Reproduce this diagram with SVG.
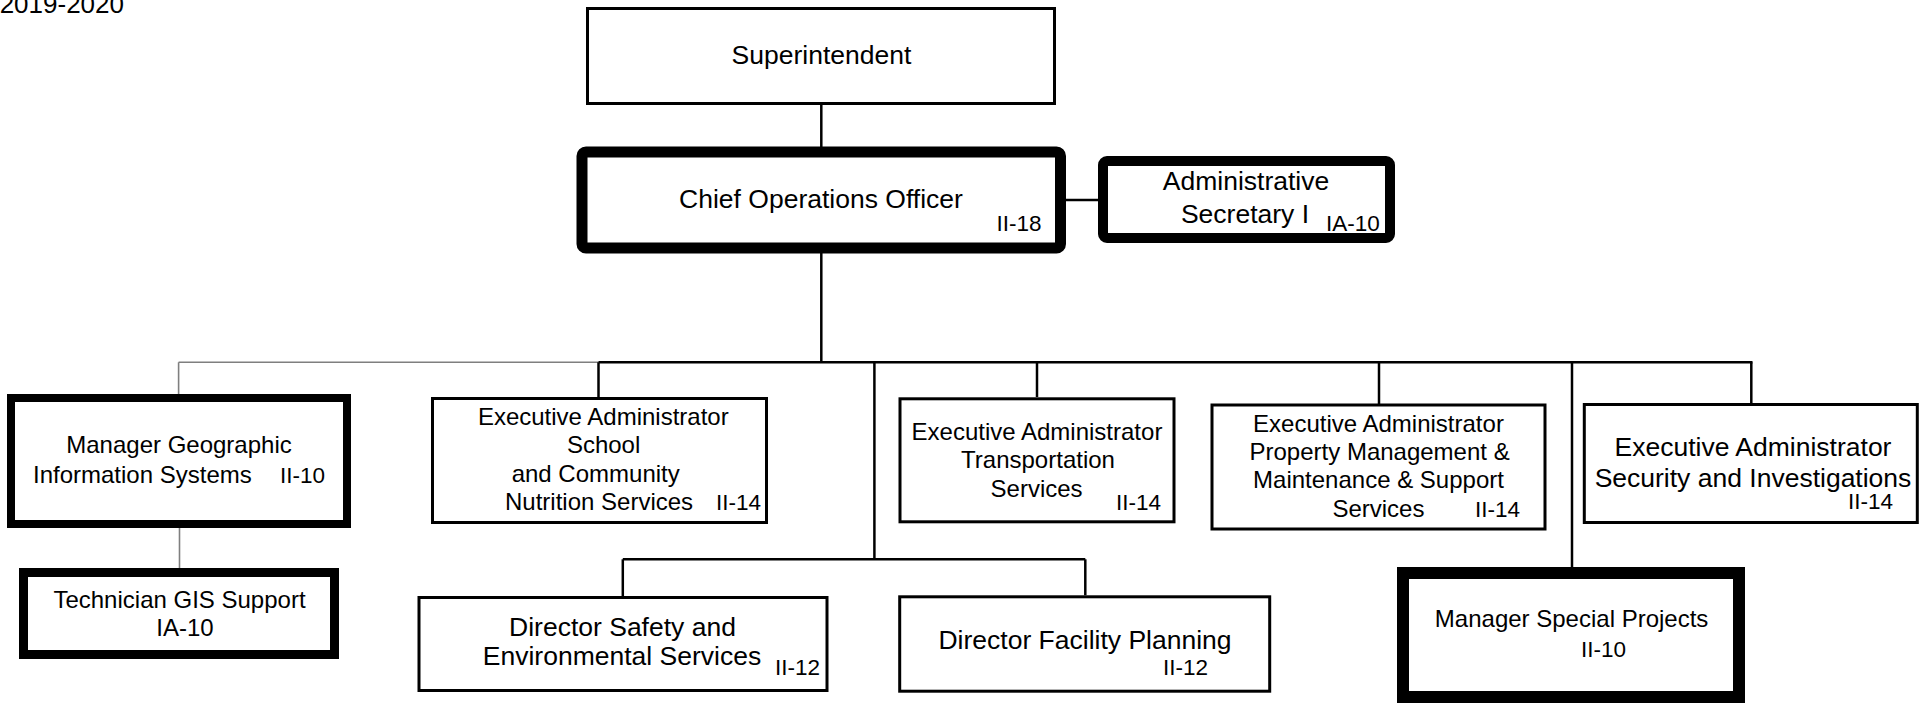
<svg xmlns="http://www.w3.org/2000/svg" width="1929" height="703" viewBox="0 0 1929 703">
<style>
text{font-family:"Liberation Sans",Arial,Helvetica,sans-serif;fill:#000}
.thin{fill:#fff;stroke:#000;stroke-width:3}
.thick{fill:#fff;stroke:#000;stroke-width:9}
.bold{fill:#fff;stroke:#000;stroke-width:11}
.c{text-anchor:middle}
.e{text-anchor:end}
.f24{font-size:24px}
.f26{font-size:26.5px}
.g{font-size:22.5px}
.ln{stroke:#000;stroke-width:2.5;fill:none}
.gl{stroke:#7f7f7f;stroke-width:1.6;fill:none}
</style>
<rect width="1929" height="703" fill="#fff"/>
<text id="year" class="e" x="124" y="13" style="font-size:26px">2019-2020</text>
<g id="connectors">
<line class="ln" x1="821.3" y1="105" x2="821.3" y2="147"/>
<line class="ln" x1="821.3" y1="253" x2="821.3" y2="362.3"/>
<line class="ln" x1="1066" y1="200" x2="1098" y2="200"/>
<line class="gl" x1="178.6" y1="362.3" x2="598.5" y2="362.3"/>
<line class="gl" x1="178.6" y1="362.3" x2="178.6" y2="394"/>
<line class="gl" x1="179.5" y1="528" x2="179.5" y2="568"/>
<line class="ln" x1="598.5" y1="362.3" x2="1752.5" y2="362.3"/>
<line class="ln" x1="598.5" y1="362.3" x2="598.5" y2="397"/>
<line class="ln" x1="1037" y1="362.3" x2="1037" y2="397"/>
<line class="ln" x1="1379" y1="362.3" x2="1379" y2="404"/>
<line class="ln" x1="1751.3" y1="362.3" x2="1751.3" y2="403"/>
<line class="ln" x1="1572" y1="362.3" x2="1572" y2="567"/>
<line class="ln" x1="874.4" y1="362.3" x2="874.4" y2="559.3"/>
<line class="ln" x1="622.8" y1="559.3" x2="1085.3" y2="559.3"/>
<line class="ln" x1="622.8" y1="559.3" x2="622.8" y2="596"/>
<line class="ln" x1="1085.3" y1="559.3" x2="1085.3" y2="595.3"/>
</g>
<g id="superintendent">
<rect class="thin" x="587.5" y="8.5" width="467" height="95"/>
<text class="c f26" x="821.5" y="64">Superintendent</text>
</g>
<g id="chief-operations-officer">
<rect class="bold" x="582" y="152" width="478.5" height="96" rx="4"/>
<text class="c f26" x="821" y="208">Chief Operations Officer</text>
<text class="g" x="996.5" y="230.5">II-18</text>
</g>
<g id="administrative-secretary">
<rect class="thick" x="1103" y="161" width="287" height="77" rx="4" style="stroke-width:10"/>
<text class="c f26" x="1246" y="190">Administrative</text>
<text class="c f26" x="1245" y="223">Secretary I</text>
<text class="g" x="1326" y="231">IA-10</text>
</g>
<g id="manager-gis">
<rect class="thick" x="11" y="398" width="336" height="126" style="stroke-width:8"/>
<text class="c f24" x="179" y="453">Manager Geographic</text>
<text class="f24" x="33" y="483">Information Systems</text>
<text class="g" x="280" y="483">II-10</text>
</g>
<g id="technician-gis">
<rect class="thick" x="23.5" y="572.5" width="311" height="82"/>
<text class="c f24" x="179.5" y="608">Technician GIS Support</text>
<text class="c f24" x="185" y="636">IA-10</text>
</g>
<g id="ea-school-nutrition">
<rect class="thin" x="432.5" y="398.5" width="334" height="124"/>
<text class="c f24" x="603.3" y="425">Executive Administrator</text>
<text class="c f24" x="603.6" y="453">School</text>
<text class="c f24" x="595.7" y="481.7">and Community</text>
<text class="f24" x="505" y="510">Nutrition Services</text>
<text class="g" x="716" y="510">II-14</text>
</g>
<g id="ea-transportation">
<rect class="thin" x="900" y="398.8" width="274" height="123"/>
<text class="c f24" x="1037" y="440">Executive Administrator</text>
<text class="c f24" x="1038" y="468.3">Transportation</text>
<text class="c f24" x="1036.6" y="496.7">Services</text>
<text class="g" x="1116" y="510">II-14</text>
</g>
<g id="ea-property-management">
<rect class="thin" x="1212" y="405" width="333" height="124"/>
<text class="c f24" x="1378.5" y="431.7">Executive Administrator</text>
<text class="c f24" x="1379.6" y="460">Property Management &amp;</text>
<text class="c f24" x="1378.5" y="488.3">Maintenance &amp; Support</text>
<text class="c f24" x="1378.4" y="516.7">Services</text>
<text class="g" x="1475" y="516.7">II-14</text>
</g>
<g id="ea-security">
<rect class="thin" x="1584.3" y="404.5" width="333" height="118"/>
<text class="c f26" x="1753" y="456">Executive Administrator</text>
<text class="c f26" x="1753" y="486.5">Security and Investigations</text>
<text class="g e" x="1893" y="509">II-14</text>
</g>
<g id="director-safety">
<rect class="thin" x="419" y="597.5" width="408" height="93"/>
<text class="c f26" x="622.5" y="636">Director Safety and</text>
<text class="c f26" x="622" y="664.5">Environmental Services</text>
<text class="g" x="775" y="675">II-12</text>
</g>
<g id="director-facility-planning">
<rect class="thin" x="899.7" y="596.8" width="370" height="94.4"/>
<text class="c f26" x="1085" y="649.3">Director Facility Planning</text>
<text class="g" x="1163" y="675">II-12</text>
</g>
<g id="manager-special-projects">
<rect class="thick" x="1403" y="573" width="336" height="124" style="stroke-width:12"/>
<text class="c f24" x="1571.6" y="626.7">Manager Special Projects</text>
<text class="c g" x="1603.5" y="656.7">II-10</text>
</g>
</svg>
